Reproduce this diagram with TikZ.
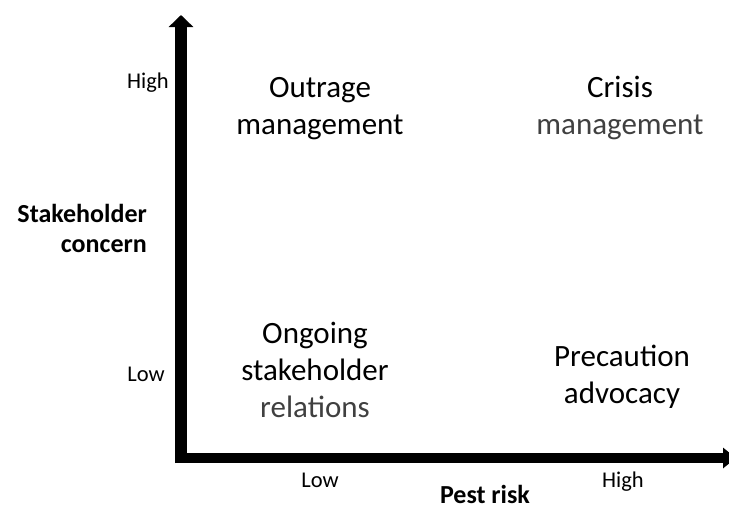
\documentclass[tikz,border=0pt]{standalone}
\usepackage{fontspec}
\setmainfont{Carlito}
\usetikzlibrary{arrows.meta}

\begin{document}
\begin{tikzpicture}
[x=1pt,y=-1pt,
 axis/.style={line width=12pt,-{Triangle[length=12pt,width=24pt]}},
 quad/.style={align=center,anchor=base,inner sep=0pt,font=\fontsize{31}{37}\selectfont},
 level/.style={anchor=base,inner sep=0pt,font=\fontsize{22.5}{27}\selectfont},
 title/.style={anchor=base,inner sep=0pt,font=\bfseries\fontsize{26}{30}\selectfont},
 faded/.style={black!75}]

\useasboundingbox (0,0) rectangle (729,509);

% axes
\coordinate (yfoot) at (181,463);
\coordinate (ytip) at (181,15);
\coordinate (xfoot) at (175,458);
\coordinate (xtip) at (736,458);

\draw [axis] (yfoot) -- (ytip);
\draw [axis,line width=10.5pt,-{Triangle[length=13pt,width=20pt]}] (xfoot) -- (xtip);

% levels
\node (yhigh) [level,anchor=base east] at (169,88) {High};
\node (ylow) [level,anchor=base east] at (165,381) {Low};
\node (xlow) [level] at (320,487) {Low};
\node (xhigh) [level] at (623,487) {High};

% axis names (base = last line)
\node (xname) [title] at (485,503) {Pest risk};
\node (yname) [title,align=right,anchor=base east] at (147,252) {Stakeholder\\concern};

% quadrants
\node (outrage) [quad] at (320,134) {Outrage\\management};
\node (crisis) [quad] at (620,134) {Crisis\\{\color{black!75}management}};
\node (ongoing) [quad] at (315,417) {Ongoing\\stakeholder\\{\color{black!75}relations}};
\node (precaution) [quad] at (622,403) {Precaution\\advocacy};

\end{tikzpicture}
\end{document}
